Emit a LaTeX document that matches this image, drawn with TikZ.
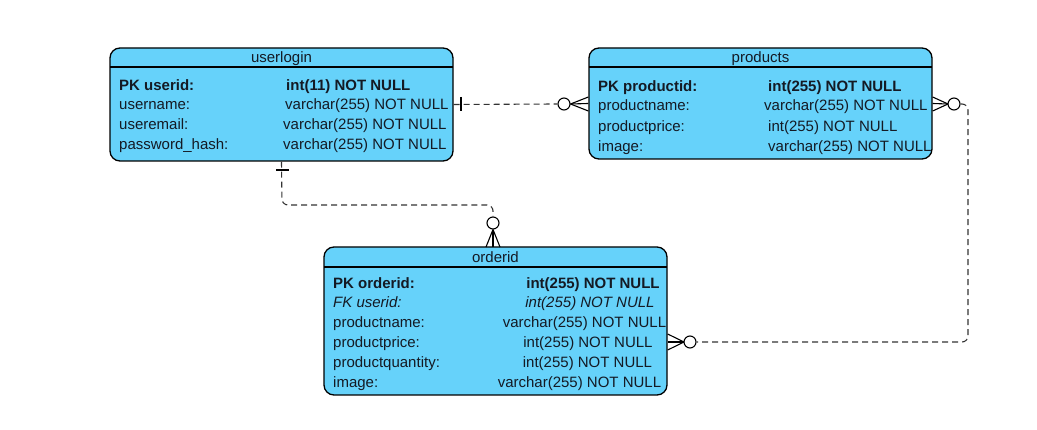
\documentclass[tikz,border=0pt]{standalone}
\usepackage{fontspec}
\setmainfont{Liberation Sans}
\usetikzlibrary{calc}
\definecolor{tblfill}{HTML}{66D2FA}
\definecolor{txt}{HTML}{141A24}
\definecolor{lnk}{HTML}{333333}
\begin{document}
\begin{tikzpicture}[x=1pt,y=-1pt,
  tbl/.style={draw=black, line width=1.3pt, fill=tblfill, rounded corners=10pt, inner sep=0pt},
  hdr/.style={draw=black, line width=1.2pt},
  txtbox/.style={text=txt, font=\fontsize{15}{18}\selectfont, inner sep=0pt, text height=11pt, text depth=0pt},
  ttl/.style={txtbox, anchor=center},
  fld/.style={txtbox, anchor=west},
  fldc/.style={txtbox, anchor=center},
  conn/.style={draw=lnk, line width=1.1pt, dash pattern=on 6pt off 4pt, rounded corners=6pt},
  crow/.style={draw=black, line width=1.1pt},
  circ/.style={circle, draw=black, line width=1.1pt, fill=white, minimum size=12pt, inner sep=0pt}]
\useasboundingbox (0,0) rectangle (1037,430);

% userlogin
\node[tbl, minimum width=343pt, minimum height=113pt] (ul) at (281.5,104.5) {};
\draw[hdr] (110,67) -- (453,67);
\node[ttl] (ult) at (281.5,57.5) {userlogin};
\node[fld, font=\fontsize{15}{18}\selectfont\bfseries] (ul1) at (119,85) {PK userid:};
\node[fld, font=\fontsize{15}{18}\selectfont\bfseries] (ul1t) at (286,85) {int(11) NOT NULL};
\node[fld] (ul2) at (119,104) {username:};
\node[fld] (ul2t) at (285,104) {varchar(255) NOT NULL};
\node[fld] (ul3) at (119,124) {useremail:};
\node[fld] (ul3t) at (283,124) {varchar(255) NOT NULL};
\node[fld] (ul4) at (119,144) {password\_hash:};
\node[fld] (ul4t) at (283,144) {varchar(255) NOT NULL};

% products
\node[tbl, minimum width=343pt, minimum height=111pt] (pr) at (760.5,103.5) {};
\draw[hdr] (589,67) -- (932,67);
\node[ttl] (prt) at (760.5,57.5) {products};
\node[fld, font=\fontsize{15}{18}\selectfont\bfseries] (pr1) at (598,86) {PK productid:};
\node[fld, font=\fontsize{15}{18}\selectfont\bfseries] (pr1t) at (768,86) {int(255) NOT NULL};
\node[fld] (pr2) at (598,105) {productname:};
\node[fld] (pr2t) at (764,105) {varchar(255) NOT NULL};
\node[fld] (pr3) at (598,126) {productprice:};
\node[fld] (pr3t) at (768,126) {int(255) NOT NULL};
\node[fld] (pr4) at (598,146) {image:};
\node[fld] (pr4t) at (768,146) {varchar(255) NOT NULL};

% orderid
\node[tbl, minimum width=343pt, minimum height=148pt] (od) at (495.5,321) {};
\draw[hdr] (324,267) -- (667,267);
\node[ttl] (odt) at (495.5,257.5) {orderid};
\node[fld, font=\fontsize{15}{18}\selectfont\bfseries] (od1) at (333,283) {PK orderid:};
\node[fldc, font=\fontsize{15}{18}\selectfont\bfseries] (od1t) at (593,283) {int(255) NOT NULL};
\node[fld, font=\fontsize{15}{18}\selectfont\itshape] (od2) at (333,302) {FK userid:};
\node[fldc, font=\fontsize{15}{18}\selectfont\itshape] (od2t) at (590,302) {int(255) NOT NULL};
\node[fld] (od3) at (333,322) {productname:};
\node[fldc] (od3t) at (584.5,322) {varchar(255) NOT NULL};
\node[fld] (od4) at (333,342) {productprice:};
\node[fldc] (od4t) at (588,342) {int(255) NOT NULL};
\node[fld] (od5) at (333,362) {productquantity:};
\node[fldc] (od5t) at (587.5,362) {int(255) NOT NULL};
\node[fld] (od6) at (333,382) {image:};
\node[fldc] (od6t) at (579.5,382) {varchar(255) NOT NULL};

% relation userlogin -- products
\node[circ] (c1) at (564,104) {};
\draw[conn] (ul.east) -- (c1.west);
\draw[crow] (461,97) -- (461,111);
\draw[crow] (c1.east) -- (pr.west |- 0,97);
\draw[crow] (c1.east) -- (pr.west |- 0,111);
\draw[crow] (c1.east) -- (pr.west);

% relation products -- orderid
\node[circ] (c2) at (954,104) {};
\node[circ] (c3) at (690,342) {};
\coordinate (p2) at (948,104);
\coordinate (p3) at (684,342);
\draw[crow] (p2) -- (pr.east |- 0,97);
\draw[crow] (p2) -- (pr.east |- 0,111);
\draw[crow] (p2) -- (pr.east);
\draw[conn] (c2.east) -- (968,104) -- (968,342) -- (c3.east);
\draw[crow] (p3) -- (od.east |- 0,334);
\draw[crow] (p3) -- (od.east |- 0,350);
\draw[crow] (p3) -- (od.east |- 0,342);

% relation userlogin -- orderid
\node[circ] (c4) at (493,223) {};
\draw[conn] (ul.south) -- (282,205) -- (493,205) -- (c4.north);
\draw[crow] (276,170) -- (289,170);
\draw[crow] (c4.south) -- (486,247);
\draw[crow] (c4.south) -- (500,247);
\draw[crow] (c4.south) -- (493,247);
\end{tikzpicture}
\end{document}
